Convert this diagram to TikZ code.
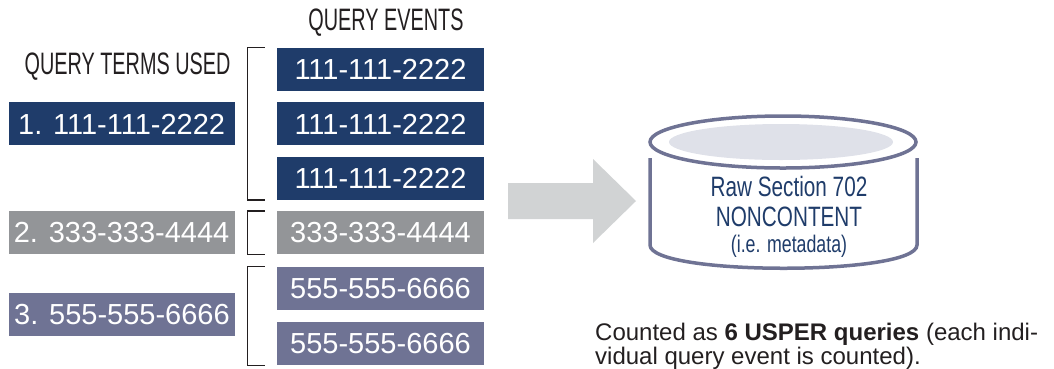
\documentclass[tikz,border=0pt]{standalone}
\usepackage{fontspec}
\setmainfont{Liberation Sans}
\newfontfamily\condfont[FakeStretch=0.64]{Liberation Sans}
\newfontfamily\cylfont[FakeStretch=0.74]{Liberation Sans}
\usetikzlibrary{positioning}
\definecolor{navy}{HTML}{1F3C6A}
\definecolor{midgray}{HTML}{939598}
\definecolor{slate}{HTML}{6F7394}
\definecolor{lightgray}{HTML}{D1D3D4}
\definecolor{mist}{HTML}{DFE1E9}
\definecolor{ink}{HTML}{231F20}
\tikzset{
  termbox/.style={minimum width=226pt, minimum height=43pt, inner sep=0pt,
    text=white, font=\fontsize{29}{31}\selectfont},
  eventbox/.style={termbox, minimum width=207pt},
  heading/.style={font=\condfont\fontsize{31}{34}\selectfont, text=ink},
  bracket/.style={draw=ink, line width=1.2pt},
  cyl/.style={draw=slate, line width=3.5pt},
}
\begin{document}
\begin{tikzpicture}[x=1pt,y=-1pt]
\useasboundingbox (0,0) rectangle (1054,368);
% headings
\node[heading] (evhead) at (386,23) {QUERY EVENTS};
\node[heading, anchor=east] (termhead) at (234,67) {QUERY TERMS USED};
% query events
\node[eventbox, fill=navy] (e1) at (380.5,69.5) {111-111-2222};
\node[eventbox, fill=navy, below=11pt of e1] (e2) {111-111-2222};
\node[eventbox, fill=navy, below=11pt of e2] (e3) {111-111-2222};
\node[eventbox, fill=midgray, below=11pt of e3] (e4) {333-333-4444};
\node[eventbox, fill=slate, below=12pt of e4] (e5) {555-555-6666};
\node[eventbox, fill=slate, below=12pt of e5] (e6) {555-555-6666};
% query terms
\node[termbox, fill=navy, left=42pt of e2] (t1) {1. 111-111-2222};
\node[termbox, fill=midgray, left=42pt of e4] (t2) {2. 333-333-4444};
\node[termbox, fill=slate] (t3) at (122,314.5) {3. 555-555-6666};
% brackets
\draw[bracket] ([xshift=-12pt]e1.north west) -- ++(-17,0) |- ([xshift=-12pt]e3.south west);
\draw[bracket] ([xshift=-12pt]e4.north west) -- ++(-17,0) |- ([xshift=-12pt]e4.south west);
\draw[bracket] ([xshift=-12pt]e5.north west) -- ++(-17,0) |- ([xshift=-12pt]e6.south west);
% block arrow
\fill[lightgray] (508,183) -- (593,183) -- (593,159) -- (636,201)
  -- (593,243) -- (593,219) -- (508,219) -- cycle;
% storage
\fill[mist] (781,142) ellipse [x radius=112, y radius=18];
\draw[cyl] (783,142) ellipse [x radius=133, y radius=26];
\draw[cyl] (650,158) -- (650,245) .. controls (650,276) and (917,276) .. (917,245) -- (917,158);
\node[text=navy, align=center, font=\cylfont\fontsize{28}{30}\selectfont] (store) at (789,217)
  {Raw Section 702\\NONCONTENT\\[-4pt]{\fontsize{24}{25}\selectfont(i.e. metadata)}};
% note
\node[anchor=base west, text=ink, font=\fontsize{24}{26}\selectfont, inner sep=0pt] (note1) at (595,340)
  {Counted as \textbf{6 USPER queries} (each indi-};
\node[anchor=base west, text=ink, font=\fontsize{24}{26}\selectfont, inner sep=0pt] (note2) at (595,364)
  {vidual query event is counted).};
\end{tikzpicture}
\end{document}
